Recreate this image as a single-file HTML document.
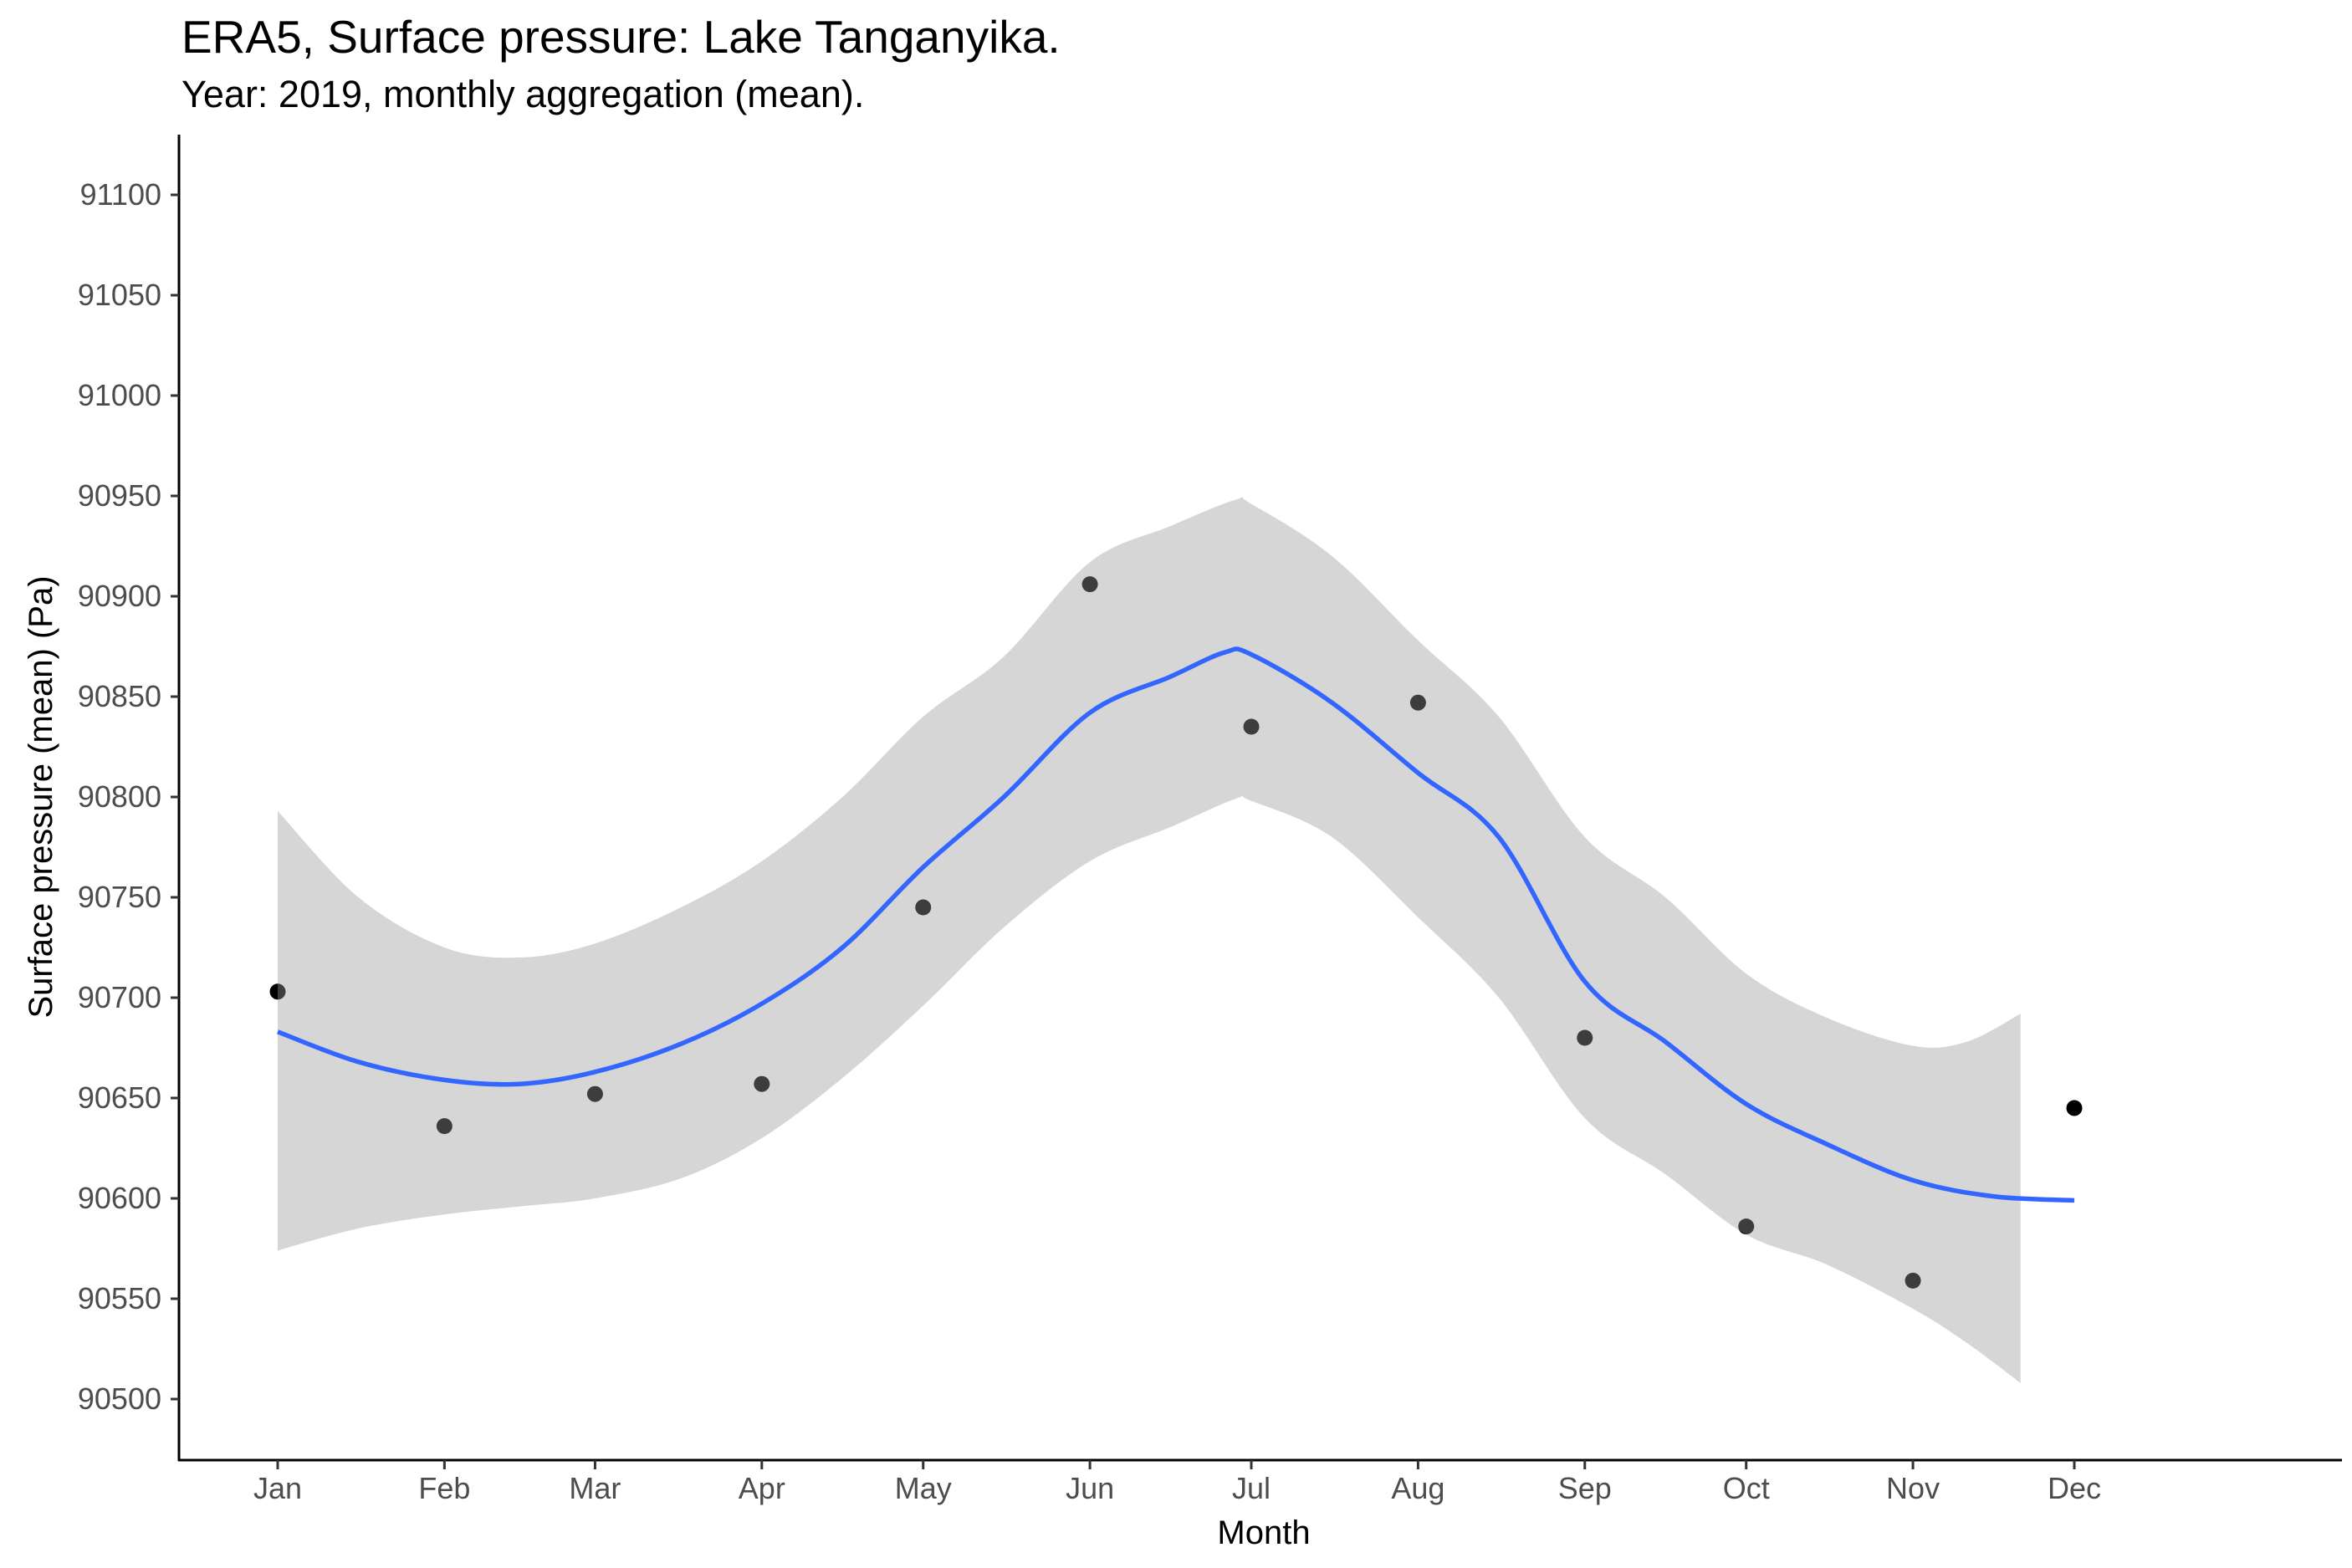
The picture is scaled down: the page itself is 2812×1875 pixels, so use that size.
<!DOCTYPE html>
<html><head><meta charset="utf-8">
<style>
html,body{margin:0;padding:0;background:#fff;}
svg{display:block;font-family:"Liberation Sans",Arial,sans-serif;}
</style></head>
<body>
<svg id="chart" width="2812" height="1875" viewBox="0 0 2812 1875" xmlns="http://www.w3.org/2000/svg">
<text x="217" y="63" font-size="55" fill="#000">ERA5, Surface pressure: Lake Tanganyika.</text>
<text x="217" y="128" font-size="45" fill="#000">Year: 2019, monthly aggregation (mean).</text>
<g id="ribbon-layer"></g>
<g id="line-layer"></g>
<g id="point-layer"></g>
<g id="axes"></g>
<text x="1511" y="1846" font-size="40" text-anchor="middle" fill="#000">Month</text>
<text transform="translate(62,953) rotate(-90)" font-size="40" text-anchor="middle" fill="#000">Surface pressure (mean) (Pa)</text>
</svg>
<script>
const months = ["Jan","Feb","Mar","Apr","May","Jun","Jul","Aug","Sep","Oct","Nov","Dec"];
const monthDays = [0,31,59,90,120,151,181,212,243,273,304,334];
const pointValues = [90703,90636,90652,90657,90745,90906,90835,90847,90680,90586,90559,90645];
const yTicks = [90500,90550,90600,90650,90700,90750,90800,90850,90900,90950,91000,91050,91100];
const smoothDays = [0,15,31,45,59,75,90,105,120,135,151,166,176,181,196,212,227,243,258,273,288,304,319,334];
const smoothValues = [90683,90668,90659,90657,90663,90677,90697,90725,90765,90800,90842,90860,90872,90871,90847,90812,90780,90708,90678,90647,90627,90609,90601,90599];
const bandDays = [0,15,31,45,59,75,90,105,120,135,151,166,178,181,196,212,227,243,258,273,288,304,314,324];
const bandUpper = [90793,90750,90725,90720,90727,90745,90768,90800,90840,90870,90917,90935,90948,90946,90920,90878,90840,90780,90750,90712,90690,90676,90678,90692];
const bandLower = [90574,90585,90592,90596,90600,90610,90630,90660,90696,90735,90768,90785,90799,90798,90780,90740,90700,90640,90612,90582,90567,90545,90528,90508];

const NS="http://www.w3.org/2000/svg";
const X0=332, PX_PER_DAY=(2480-332)/334;
const Y0=1673, PX_PER_PA=120/50;
const xs=d=>X0+d*PX_PER_DAY;
const ys=v=>Y0-(v-90500)*PX_PER_PA;
function mk(tag,attrs,parent){const e=document.createElementNS(NS,tag);for(const k in attrs)e.setAttribute(k,attrs[k]);parent.appendChild(e);return e;}
function curve(pts){
  let d="M"+pts[0][0].toFixed(1)+","+pts[0][1].toFixed(1);
  for(let i=0;i<pts.length-1;i++){
    const p0=pts[Math.max(0,i-1)],p1=pts[i],p2=pts[i+1],p3=pts[Math.min(pts.length-1,i+2)];
    const c1=[p1[0]+(p2[0]-p0[0])/6,p1[1]+(p2[1]-p0[1])/6];
    const c2=[p2[0]-(p3[0]-p1[0])/6,p2[1]-(p3[1]-p1[1])/6];
    d+=" C"+c1[0].toFixed(1)+","+c1[1].toFixed(1)+" "+c2[0].toFixed(1)+","+c2[1].toFixed(1)+" "+p2[0].toFixed(1)+","+p2[1].toFixed(1);
  }
  return d;
}
const svg=document.getElementById('chart');
const ribbonG=document.getElementById('ribbon-layer');
const lineG=document.getElementById('line-layer');
const pointG=document.getElementById('point-layer');
const axesG=document.getElementById('axes');

months.forEach((m,i)=>{
  const c=mk('circle',{cx:xs(monthDays[i]),cy:ys(pointValues[i]),r:9.5,fill:'#000'},pointG);
  
  
});
svg.insertBefore(pointG, ribbonG);

const up=bandDays.map((d,i)=>[xs(d),ys(bandUpper[i])]);
const lo=bandDays.map((d,i)=>[xs(d),ys(bandLower[i])]).reverse();
const upPath=curve(up);
const loPath=curve(lo).replace(/^M/,"L");
const rib=mk('path',{d:upPath+" "+loPath+" Z",fill:'#999',"fill-opacity":0.4},ribbonG);



const ln=mk('path',{d:curve(smoothDays.map((d,i)=>[xs(d),ys(smoothValues[i])])),fill:'none',stroke:'#3366FF','stroke-width':5.5},lineG);



const yl=mk('line',{x1:214,y1:161,x2:214,y2:1747,stroke:'#000','stroke-width':3},axesG);


const xl=mk('line',{x1:213,y1:1746,x2:2800,y2:1746,stroke:'#000','stroke-width':3},axesG);


yTicks.forEach(v=>{
  const y=ys(v);
  const t=mk('line',{x1:204,y1:y,x2:214,y2:y,stroke:'#333','stroke-width':3},axesG);
  
  
  const l=mk('text',{x:193,y:y+12,'font-size':36,'text-anchor':'end',fill:'#4d4d4d'},axesG);
  l.textContent=v;
  
  
});
months.forEach((m,i)=>{
  const x=xs(monthDays[i]);
  const t=mk('line',{x1:x,y1:1746,x2:x,y2:1757,stroke:'#333','stroke-width':3},axesG);
  
  
  const l=mk('text',{x:x,y:1792,'font-size':36,'text-anchor':'middle',fill:'#4d4d4d'},axesG);
  l.textContent=m;
  
  
});
</script>
</body></html>
